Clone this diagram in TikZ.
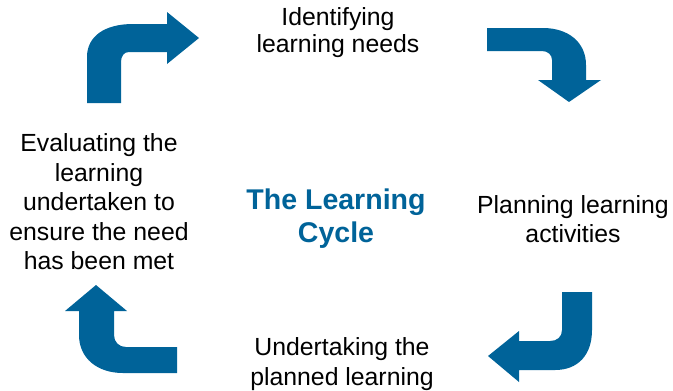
\documentclass[tikz,border=0pt]{standalone}
\usepackage{fontspec}
\setmainfont{Liberation Sans}
\definecolor{cycleblue}{RGB}{0,99,153}

\begin{document}
\begin{tikzpicture}[x=0.75pt, y=-0.75pt,
  stage_text/.style={align=center, font=\fontsize{18.6}{22.1}\selectfont},
  title_text/.style={align=center, text=cycleblue, font=\fontsize{21.4}{24.8}\selectfont\bfseries},
  cycle_arrow/.style={fill=cycleblue, draw=none}]

\useasboundingbox (0,0) rectangle (673,390);

\node[stage_text, font=\fontsize{18.6}{20.3}\selectfont] (identify) at (338,33) {Identifying\\learning needs};
\node[stage_text] (plan) at (573,219) {Planning learning\\activities};
\node[stage_text] (undertake) at (342,364) {Undertaking the\\planned learning};
\node[stage_text] (evaluate) at (99,202) {Evaluating the\\learning\\undertaken to\\ensure the need\\has been met};
\node[title_text] (cycle) at (336,219) {The Learning\\Cycle};

% top left arrow
\fill[cycle_arrow] (87,103) -- (87,57) .. controls (87,36) and (105,24) .. (133,24)
  -- (167,24) -- (167,12) -- (199,38) -- (167,64) -- (167,52) -- (129,52)
  .. controls (124,52) and (121,56) .. (121,62) -- (121,103) -- cycle;
% top right arrow
\fill[cycle_arrow] (487,28) -- (543,28) .. controls (568,28) and (586,42) .. (586,65)
  -- (586,80) -- (601,80) -- (569,102) -- (538,80) -- (552,80) -- (552,60)
  .. controls (552,55) and (548,51) .. (542,51) -- (487,51) -- cycle;
% bottom right arrow
\fill[cycle_arrow] (562,292) -- (592,292) -- (592,330) .. controls (592,355) and (578,370) .. (555,370)
  -- (519,370) -- (519,382) -- (488,356) -- (519,331) -- (519,341) -- (550,341)
  .. controls (557,341) and (562,337) .. (562,330) -- cycle;
% bottom left arrow
\fill[cycle_arrow] (177,347) -- (126,347) .. controls (119,347) and (114,342) .. (114,335)
  -- (114,311) -- (127,311) -- (96,285) -- (65,311) -- (79,311) -- (79,335)
  .. controls (79,358) and (97,373) .. (123,373) -- (177,373) -- cycle;

\end{tikzpicture}
\end{document}
